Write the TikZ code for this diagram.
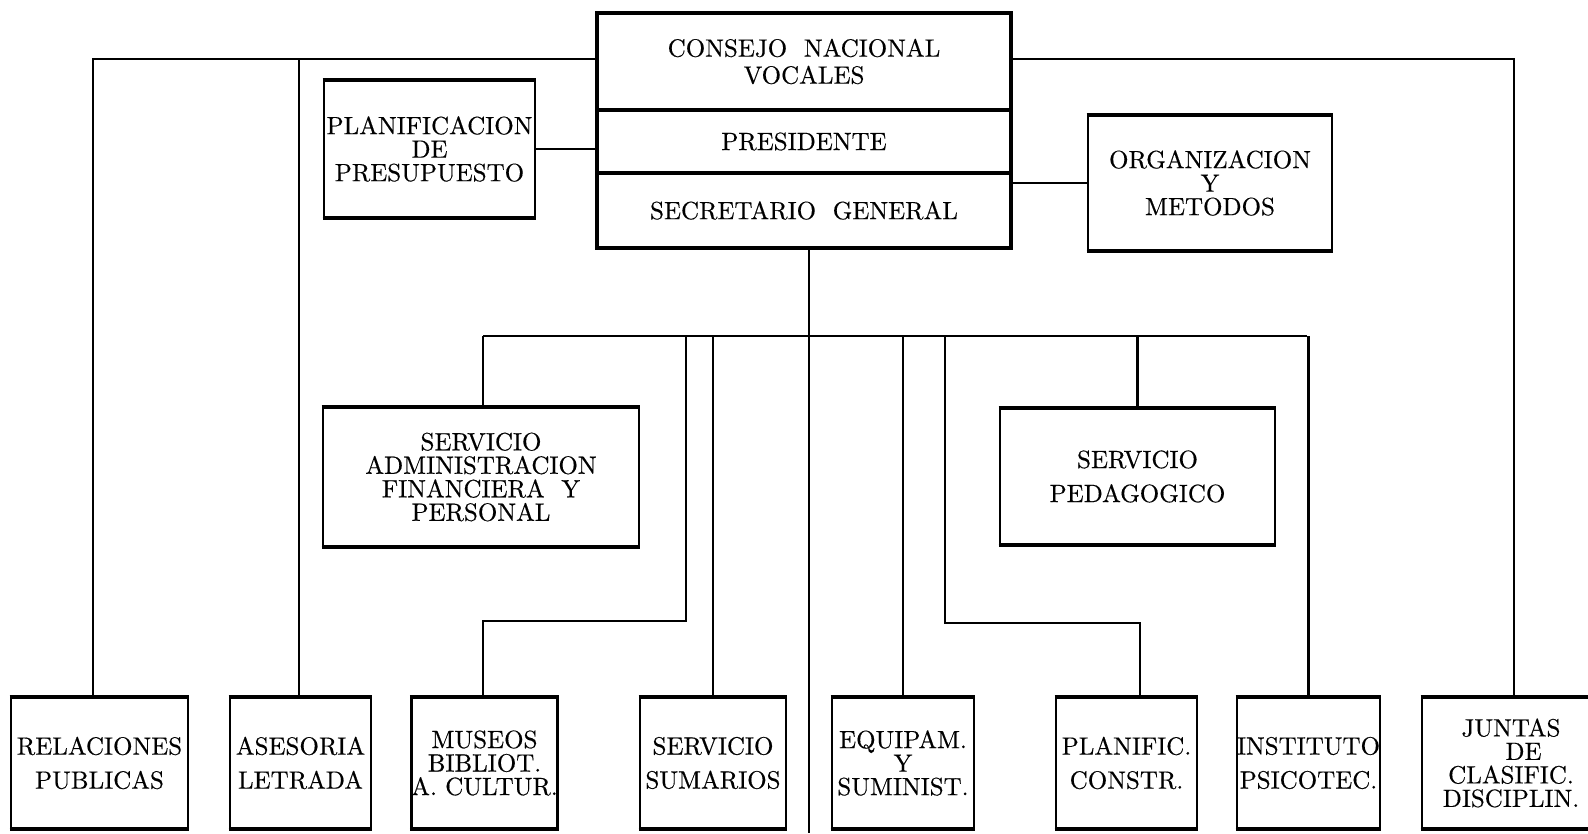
\documentclass[tikz,border=0pt]{standalone}
\usepackage{fontspec}
\newfontfamily\orgrm{lmroman10-regular.otf}[FakeBold=0.4]
\newcommand\orgfs{\orgrm\fontsize{25}{23.5}\selectfont}
\newcommand\orgfw{\orgrm\fontsize{25}{34}\selectfont}
\newcommand\orgfc{\orgrm\fontsize{25}{27}\selectfont}
\begin{document}
\begin{tikzpicture}[x=1pt,y=-1pt,line width=2.6pt,line join=miter,
  box/.style={draw,line width=2.6pt,inner sep=0pt,align=center,font=\orgfs},
  wbox/.style={box,font=\orgfw},
  cbox/.style={draw,line width=3.6pt,inner sep=0pt,align=center,font=\orgfs,minimum width=414pt}]
\useasboundingbox (0,0) rectangle (1588,833);
% central block
\node[cbox,font=\orgfc,minimum height=97pt] (consejo) at (804,61.5) {CONSEJO\ \ NACIONAL\\VOCALES};
\node[cbox,minimum height=63pt] (presid) at (804,141.5) {PRESIDENTE};
\node[cbox,minimum height=75pt] (secret) at (804,210.5) {SECRETARIO\ \ GENERAL};
% staff boxes
\node[box,minimum width=211pt,minimum height=136pt] (planif) at (429.5,149) {PLANIFICACION\\DE\\PRESUPUESTO};
\node[box,minimum width=244pt,minimum height=134pt] (organiz) at (1210,183) {ORGANIZACION\\Y\\METODOS};
% second level
\node[box,minimum width=316pt,minimum height=138pt] (admin) at (481,477) {SERVICIO\\ADMINISTRACION\\FINANCIERA\ \ Y\\PERSONAL};
\node[wbox,minimum width=275pt,minimum height=135pt] (pedag) at (1137.5,476.5) {SERVICIO\\PEDAGOGICO};
% bottom row
\node[wbox,minimum width=177pt,minimum height=130pt] (relac) at (99.5,763) {RELACIONES\\PUBLICAS};
\node[wbox,minimum width=141pt,minimum height=130pt] (asesor) at (300.5,763) {ASESORIA\\LETRADA};
\node[box,minimum width=143pt,minimum height=130pt] (museos) at (484.5,763) {MUSEOS\\BIBLIOT.\\A. CULTUR.};
\node[wbox,minimum width=146pt,minimum height=130pt] (sumar) at (713,763) {SERVICIO\\SUMARIOS};
\node[box,minimum width=142pt,minimum height=130pt] (equip) at (903,763) {EQUIPAM.\\Y\\SUMINIST.};
\node[wbox,minimum width=141pt,minimum height=130pt] (planc) at (1126.5,763) {PLANIFIC.\\CONSTR.};
\node[wbox,minimum width=141pt,minimum height=130pt] (instit) at (1308.5,763) {INSTITUTO\\PSICOTEC.};
\node[box,minimum width=178pt,minimum height=130pt] (juntas) at (1511,763) {JUNTAS\\\hspace*{1em}DE\\CLASIFIC.\\DISCIPLIN.};
% thicker horizontal edges
\foreach \n in {planif,organiz,admin,pedag,relac,asesor,museos,sumar,equip,planc,instit,juntas}
  \draw[line width=3.6pt] (\n.north west) -- (\n.north east) (\n.south west) -- (\n.south east);
% top connectors
\coordinate (tl) at (93,59);
\coordinate (ta) at (299,59);
\coordinate (tr) at (1514,59);
\draw (consejo.west |- tl) -- (tl) -- (tl |- relac.north);
\draw (ta) -- (ta |- asesor.north);
\draw (consejo.east |- tr) -- (tr) -- (tr |- juntas.north);
\draw (planif.east) -- (planif.east -| consejo.west);
\draw (secret.east |- organiz.west) -- (organiz.west);
% central trunk
\coordinate (cb) at (809,833);
\draw (secret.south -| cb) -- (cb);
% second level bar
\coordinate (hL) at (483,336);
\coordinate (hR) at (1307,336);
\draw (hL) -- (hR);
\draw (hL) -- (hL |- admin.north);
\coordinate (m1) at (686,336);
\coordinate (m2) at (686,621);
\draw (m1) -- (m2) -- (m2 -| hL) -- (hL |- museos.north);
\draw (sumar.north) -- (sumar.north |- hL);
\draw (equip.north) -- (equip.north |- hL);
\coordinate (p1) at (945,336);
\coordinate (p2) at (945,623);
\coordinate (p3) at (1140,623);
\draw (p1) -- (p2) -- (p3) -- (p3 |- planc.north);
\draw (pedag.north) -- (pedag.north |- hL);
\draw (instit.north) -- (instit.north |- hL);
\end{tikzpicture}
\end{document}
